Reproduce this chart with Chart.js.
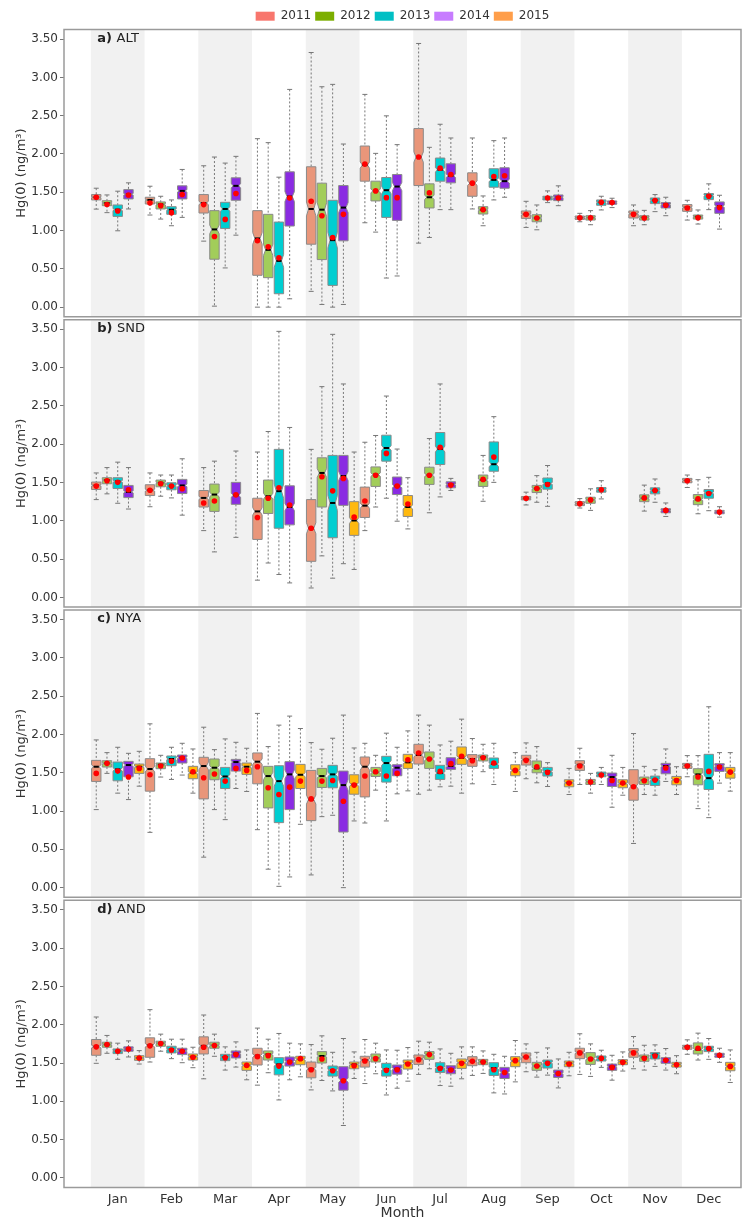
<!DOCTYPE html>
<html>
<head>
<meta charset="utf-8">
<script src="https://cdn.jsdelivr.net/npm/chart.js@4.4.1/dist/chart.umd.min.js"></script>
<style>
  html, body { margin: 0; padding: 0; background: #fff; }
  #wrap { width: 750px; height: 1222px; }
</style>
</head>
<body>
<div id="wrap"><canvas id="hgChart" width="750" height="1222"></canvas></div>
<script>
// monthly box stats per station and year: [low whisker, Q1, median, Q3, high whisker, mean]
const months = ['Jan', 'Feb', 'Mar', 'Apr', 'May', 'Jun', 'Jul', 'Aug', 'Sep', 'Oct', 'Nov', 'Dec'];
const years = ['2011', '2012', '2013', '2014', '2015'];
const stationTags = ['a)', 'b)', 'c)', 'd)'];
const stationNames = ['ALT', 'SND', 'NYA', 'AND'];
const yTicks = [0, 0.5, 1, 1.5, 2, 2.5, 3, 3.5];

const ALT_2011 = [[1.28,1.40,1.435,1.47,1.553,1.435],[1.203,1.347,1.40,1.435,1.579,1.36],[0.862,1.229,1.36,1.47,1.846,1.339],[0,0.416,0.897,1.26,2.20,0.866],[0.206,0.822,1.282,1.833,3.325,1.382],[1.102,1.645,1.855,2.104,2.778,1.868],[0.836,1.588,1.96,2.332,3.443,1.96],[1.282,1.448,1.619,1.754,2.209,1.619],[1.041,1.159,1.212,1.256,1.382,1.212],[1.115,1.146,1.168,1.19,1.225,1.168],[1.063,1.164,1.22,1.256,1.334,1.212],[1.137,1.251,1.304,1.339,1.395,1.295]];
const ALT_2012 = [[1.234,1.325,1.36,1.39,1.465,1.34],[1.15,1.282,1.343,1.374,1.448,1.325],[0.013,0.626,1.015,1.26,1.96,0.923],[0,0.385,0.748,1.212,2.148,0.787],[0.035,0.621,1.273,1.619,2.878,1.194],[0.98,1.387,1.518,1.645,2.008,1.518],[0.91,1.295,1.435,1.61,2.087,1.492],[1.063,1.216,1.269,1.312,1.452,1.273],[1.01,1.115,1.164,1.207,1.334,1.164],[1.076,1.137,1.168,1.194,1.26,1.168],[1.076,1.137,1.172,1.194,1.264,1.164],[1.085,1.15,1.181,1.203,1.269,1.168]];
const ALT_2013 = [[0.997,1.185,1.273,1.334,1.514,1.255],[1.063,1.212,1.273,1.312,1.40,1.234],[0.512,1.028,1.282,1.369,1.881,1.146],[0,0.175,0.604,1.111,1.697,0.643],[0,0.284,0.875,1.395,2.909,0.91],[0.38,1.172,1.527,1.693,2.498,1.43],[1.273,1.645,1.794,1.947,2.388,1.815],[1.40,1.566,1.662,1.807,2.174,1.706],[1.365,1.40,1.426,1.448,1.518,1.426],[1.269,1.33,1.369,1.40,1.448,1.369],[1.247,1.352,1.395,1.426,1.47,1.391],[1.273,1.404,1.457,1.483,1.61,1.448]];
const ALT_2014 = [[1.282,1.413,1.474,1.535,1.623,1.465],[1.172,1.413,1.518,1.584,1.798,1.47],[0.94,1.395,1.584,1.689,1.969,1.483],[0.109,1.059,1.444,1.767,2.843,1.426],[0.035,0.866,1.30,1.588,2.13,1.212],[0.407,1.133,1.575,1.732,2.122,1.43],[1.273,1.623,1.715,1.872,2.209,1.732],[1.435,1.553,1.645,1.82,2.209,1.715],[1.325,1.391,1.435,1.465,1.584,1.426],[1.30,1.343,1.365,1.387,1.422,1.365],[1.194,1.295,1.339,1.365,1.435,1.33],[1.019,1.225,1.317,1.374,1.461,1.30]];
const ALT_2015 = [null,null,null,null,null,null,null,null,null,null,null,null];

const SND_2011 = [[1.277,1.409,1.462,1.506,1.625,1.453],[1.184,1.33,1.40,1.471,1.625,1.40],[0.872,1.18,1.299,1.396,1.695,1.233],[0.225,0.757,1.123,1.295,1.898,1.044],[0.123,0.471,0.903,1.277,1.933,0.903],[0.872,1.044,1.198,1.44,2.026,1.259],null,null,[1.207,1.273,1.295,1.317,1.374,1.295],[1.167,1.198,1.224,1.25,1.29,1.224],null,[1.435,1.497,1.528,1.554,1.598,1.524]];
const SND_2012 = [[1.352,1.484,1.532,1.563,1.695,1.524],[1.321,1.444,1.497,1.532,1.598,1.484],[0.594,1.123,1.343,1.48,1.779,1.259],[0.449,1.096,1.321,1.532,2.166,1.295],[0.542,1.18,1.625,1.823,2.752,1.576],[1.18,1.449,1.603,1.704,2.114,1.594],[1.105,1.475,1.598,1.70,2.074,1.594],[1.255,1.449,1.532,1.598,1.854,1.541],[1.242,1.369,1.422,1.462,1.59,1.422],[1.136,1.229,1.273,1.308,1.418,1.273],[1.127,1.25,1.295,1.339,1.466,1.299],[1.092,1.211,1.277,1.343,1.537,1.286]];
const SND_2013 = [[1.229,1.422,1.515,1.563,1.766,1.502],[1.299,1.405,1.457,1.497,1.598,1.453],null,[0.299,0.903,1.387,1.933,3.474,1.431],[0.251,0.779,1.233,1.854,3.435,1.391],[1.295,1.779,1.951,2.118,2.629,1.88],[1.312,1.735,1.937,2.153,2.787,1.96],[1.502,1.647,1.739,2.03,2.36,1.832],[1.189,1.413,1.488,1.559,1.722,1.475],[1.286,1.374,1.405,1.435,1.524,1.405],[1.242,1.352,1.396,1.431,1.546,1.396],[1.132,1.295,1.365,1.409,1.568,1.356]];
const SND_2014 = [[1.154,1.303,1.378,1.462,1.695,1.405],[1.074,1.356,1.462,1.541,1.81,1.418],[0.784,1.215,1.334,1.502,1.911,1.339],[0.189,0.947,1.18,1.457,2.219,1.206],[0.44,1.202,1.585,1.854,2.787,1.554],[0.995,1.343,1.453,1.572,1.937,1.453],[1.396,1.431,1.475,1.51,1.554,1.466],null,null,null,[1.057,1.105,1.136,1.158,1.233,1.136],[1.048,1.092,1.118,1.136,1.184,1.114]];
const SND_2015 = [null,null,null,null,[0.365,0.81,1.004,1.25,1.898,1.048],[0.894,1.057,1.18,1.33,1.563,1.22],null,null,null,null,null,null];

const NYA_2011 = [[1.019,1.387,1.579,1.662,1.929,1.492],[0.722,1.26,1.549,1.684,2.139,1.474],[0.398,1.159,1.588,1.702,2.095,1.435],[0.757,1.356,1.645,1.759,2.275,1.579],[0.166,0.875,1.15,1.531,1.894,1.159],[0.844,1.185,1.579,1.706,1.885,1.457],[1.22,1.614,1.732,1.872,2.253,1.759],[1.356,1.584,1.68,1.737,1.947,1.658],[1.422,1.601,1.671,1.728,1.89,1.662],[1.347,1.531,1.605,1.658,1.82,1.588],[0.577,1.142,1.325,1.54,2.012,1.317],[1.448,1.557,1.597,1.623,1.724,1.588]];
const NYA_2012 = [[1.492,1.575,1.623,1.658,1.763,1.623],[1.444,1.553,1.605,1.627,1.728,1.588],[1.019,1.409,1.566,1.68,1.802,1.483],[0.241,1.041,1.457,1.584,1.842,1.304],[0.927,1.308,1.457,1.557,1.807,1.391],[1.273,1.452,1.505,1.57,1.728,1.514],[1.273,1.557,1.68,1.772,2.122,1.68],[1.514,1.654,1.706,1.732,1.872,1.697],[1.369,1.50,1.557,1.654,1.842,1.579],[1.234,1.347,1.382,1.413,1.492,1.378],[1.216,1.347,1.404,1.444,1.584,1.395],[1.032,1.343,1.479,1.553,1.724,1.444]];
const NYA_2013 = [[1.234,1.395,1.544,1.64,1.833,1.522],[1.413,1.592,1.68,1.719,1.833,1.649],[0.888,1.295,1.452,1.57,1.942,1.391],[0.017,0.849,1.391,1.592,2.122,1.216],[0.945,1.304,1.479,1.597,1.951,1.40],[0.871,1.378,1.627,1.715,2.017,1.457],[1.317,1.413,1.496,1.597,1.863,1.518],[1.347,1.557,1.614,1.693,1.885,1.627],[1.321,1.457,1.518,1.57,1.632,1.505],[1.347,1.448,1.479,1.509,1.57,1.47],[1.207,1.334,1.409,1.457,1.54,1.404],[0.914,1.282,1.43,1.741,2.362,1.518]];
const NYA_2014 = [[1.15,1.448,1.601,1.649,1.754,1.444],[1.47,1.627,1.697,1.732,1.885,1.693],[1.295,1.522,1.64,1.675,1.898,1.557],[0.14,1.019,1.479,1.645,2.24,1.312],[0,0.726,1.339,1.522,2.253,1.129],[1.225,1.461,1.566,1.605,1.833,1.492],[1.325,1.544,1.588,1.697,1.912,1.619],null,null,[1.05,1.321,1.444,1.496,1.728,1.40],[1.387,1.487,1.588,1.623,1.811,1.562],[1.365,1.518,1.588,1.619,1.763,1.575]];
const NYA_2015 = [[1.325,1.492,1.579,1.614,1.78,1.557],[1.234,1.422,1.50,1.584,1.811,1.514],[1.256,1.479,1.579,1.627,1.82,1.531],[0.827,1.295,1.474,1.61,2.078,1.391],[0.871,1.22,1.347,1.474,1.824,1.339],[1.264,1.557,1.636,1.741,2.047,1.671],[1.234,1.61,1.697,1.837,2.20,1.715],[1.256,1.461,1.531,1.605,1.763,1.531],[1.216,1.317,1.369,1.409,1.557,1.365],[1.207,1.304,1.36,1.409,1.57,1.365],[1.216,1.343,1.409,1.452,1.579,1.40],[1.26,1.43,1.505,1.57,1.763,1.509]];

const AND_2011 = [[1.496,1.601,1.715,1.807,2.101,1.711],[1.513,1.575,1.732,1.829,2.197,1.724],[1.294,1.618,1.724,1.842,2.127,1.706],[1.211,1.474,1.596,1.693,1.956,1.583],[1.149,1.307,1.425,1.513,1.741,1.412],[1.232,1.447,1.539,1.588,1.807,1.526],[1.351,1.482,1.553,1.605,1.785,1.544],[1.338,1.465,1.526,1.583,1.711,1.522],[1.386,1.504,1.579,1.632,1.75,1.579],[1.351,1.557,1.636,1.693,1.882,1.632],[1.425,1.575,1.645,1.689,1.846,1.632],[1.614,1.68,1.715,1.732,1.803,1.706]];
const AND_2012 = [[1.627,1.706,1.741,1.772,1.86,1.741],[1.654,1.719,1.759,1.785,1.877,1.754],[1.588,1.693,1.732,1.772,1.877,1.728],[1.373,1.539,1.614,1.658,1.811,1.596],[1.272,1.50,1.592,1.649,1.855,1.553],[1.36,1.513,1.566,1.618,1.759,1.557],[1.425,1.548,1.61,1.649,1.772,1.61],[1.364,1.478,1.518,1.548,1.658,1.513],[1.316,1.404,1.461,1.509,1.64,1.461],[1.325,1.482,1.557,1.636,1.75,1.553],[1.408,1.522,1.575,1.605,1.732,1.561],[1.539,1.618,1.675,1.763,1.89,1.693]];
const AND_2013 = [[1.548,1.623,1.658,1.684,1.759,1.654],[1.557,1.632,1.68,1.719,1.811,1.671],[1.408,1.531,1.579,1.614,1.711,1.57],[1.018,1.346,1.482,1.57,1.886,1.46],[1.136,1.329,1.408,1.461,1.64,1.399],[1.083,1.329,1.421,1.496,1.671,1.404],[1.206,1.377,1.439,1.504,1.684,1.43],[1.11,1.338,1.434,1.504,1.614,1.412],[1.342,1.434,1.504,1.539,1.697,1.496],[1.443,1.526,1.561,1.592,1.667,1.561],[1.456,1.553,1.61,1.636,1.737,1.592],[1.548,1.649,1.689,1.719,1.82,1.689]];
const AND_2014 = [[1.579,1.654,1.684,1.711,1.789,1.684],[1.504,1.61,1.658,1.693,1.811,1.654],[1.447,1.566,1.623,1.658,1.776,1.61],[1.281,1.46,1.518,1.579,1.759,1.513],[0.684,1.145,1.276,1.452,1.82,1.268],[1.171,1.355,1.425,1.474,1.667,1.412],[1.197,1.36,1.417,1.465,1.627,1.408],[1.096,1.298,1.377,1.443,1.588,1.377],[1.175,1.311,1.364,1.408,1.553,1.364],[1.276,1.404,1.452,1.487,1.601,1.443],[1.408,1.496,1.539,1.57,1.689,1.535],[1.509,1.575,1.601,1.627,1.693,1.601]];
const AND_2015 = [[1.487,1.535,1.566,1.596,1.662,1.566],[1.439,1.539,1.583,1.618,1.706,1.575],[1.281,1.404,1.469,1.513,1.671,1.469],[1.32,1.478,1.548,1.588,1.75,1.557],[1.298,1.425,1.482,1.513,1.645,1.465],[1.263,1.421,1.496,1.539,1.702,1.487],[1.294,1.43,1.504,1.553,1.711,1.496],[1.254,1.452,1.526,1.583,1.794,1.531],[1.333,1.452,1.496,1.526,1.64,1.487],[1.395,1.478,1.518,1.544,1.645,1.509],[1.36,1.447,1.482,1.509,1.596,1.478],[1.246,1.399,1.456,1.509,1.671,1.456]];

const stationData = [
  [ALT_2011, ALT_2012, ALT_2013, ALT_2014, ALT_2015],
  [SND_2011, SND_2012, SND_2013, SND_2014, SND_2015],
  [NYA_2011, NYA_2012, NYA_2013, NYA_2014, NYA_2015],
  [AND_2011, AND_2012, AND_2013, AND_2014, AND_2015]
];

const boxColors = ['#E9967A', '#A2CD5A', '#00CED1', '#8A2BE2', '#FFB90F'];
const legendColors = ['#F8766D', '#7CAE00', '#00BFC4', '#C77CFF', '#FF9E4A'];
const FONT = 'DejaVu Sans';
const BOX_W = 0.175;     // box width in month units
const SLOT = 0.2;        // spacing between years inside a month

Chart.defaults.font.family = FONT;
Chart.defaults.color = '#333';

// one scatter dataset per station and year, carrying the mean; boxes are drawn by the plugin below
const datasets = [];
stationData.forEach((series, p) => {
  series.forEach((stats, k) => {
    const pts = [];
    stats.forEach((s, i) => {
      if (s) pts.push({ x: i + 1 + (k - 2) * SLOT, y: s[5] });
    });
    datasets.push({
      type: 'scatter',
      label: stationNames[p] + ' ' + years[k],
      yAxisID: 'y' + p,
      data: pts,
      stats: stats,
      yearIndex: k,
      pointStyle: 'circle',
      pointRadius: 2.8,
      pointHoverRadius: 2.8,
      pointBackgroundColor: '#FF0000',
      pointBorderWidth: 0,
      showLine: false
    });
  });
});

const scales = {
  x: {
    type: 'linear',
    min: 0,
    max: 12.6,
    afterBuildTicks: s => { s.ticks = months.map((m, i) => ({ value: i + 1 })); },
    afterFit: s => { s.height = 33; },
    ticks: { callback: v => months[v - 1], font: { size: 13 }, color: '#333', padding: 3, maxRotation: 0 },
    grid: { display: false, drawTicks: false },
    border: { display: false },
    title: { display: true, text: 'Month', font: { size: 14 }, color: '#333', padding: 0 }
  }
};
stationNames.forEach((name, p) => {
  scales['y' + p] = {
    type: 'linear',
    position: 'left',
    stack: 'panels',
    stackWeight: 1,
    weight: 4 - p,
    offset: false,
    min: -0.145,
    max: 3.645,
    afterBuildTicks: s => { s.ticks = yTicks.map(v => ({ value: v })); },
    afterFit: s => { s.width = 64; },
    ticks: { callback: v => v.toFixed(2), font: { size: 12 }, color: '#333', padding: 2 },
    grid: { display: true, drawOnChartArea: false, drawTicks: true, tickLength: 4, color: '#777' },
    border: { display: false },
    title: { display: true, text: 'Hg(0) (ng/m³)', font: { size: 13 }, color: '#333', padding: { top: 14, bottom: 0 } }
  };
});

const boxPlugin = {
  id: 'notchedBoxes',
  beforeDatasetsDraw(chart) {
    const ctx = chart.ctx;
    const xs = chart.scales.x;
    ctx.save();
    // shaded months and panel labels
    stationNames.forEach((name, p) => {
      const ys = chart.scales['y' + p];
      const top = ys.top + 1.5, bottom = ys.bottom - 1.5;
      ctx.fillStyle = '#F1F1F1';
      months.forEach((m, i) => {
        if (i % 2 === 0) {
          const x0 = xs.getPixelForValue(i + 0.5), x1 = xs.getPixelForValue(i + 1.5);
          ctx.fillRect(x0, top, x1 - x0, bottom - top);
        }
      });
      ctx.fillStyle = '#222';
      ctx.textBaseline = 'middle';
      ctx.textAlign = 'left';
      ctx.font = 'bold 13px ' + FONT;
      const lx = xs.getPixelForValue(0.62);
      ctx.fillText(stationTags[p], lx, top + 9);
      const w = ctx.measureText(stationTags[p] + ' ').width;
      ctx.font = '13px ' + FONT;
      ctx.fillText(name, lx + w, top + 9);
    });

    const half = (xs.getPixelForValue(BOX_W) - xs.getPixelForValue(0)) / 2;
    const inset = half * 0.45;
    chart.data.datasets.forEach(ds => {
      const ys = chart.scales[ds.yAxisID];
      ds.stats.forEach((s, i) => {
        if (!s) return;
        const cx = xs.getPixelForValue(i + 1 + (ds.yearIndex - 2) * SLOT);
        const [lo, q1, med, q3, hi] = s;
        const nh = 0.09 * (q3 - q1);
        const yLo = ys.getPixelForValue(lo), yHi = ys.getPixelForValue(hi);
        const yQ1 = ys.getPixelForValue(q1), yQ3 = ys.getPixelForValue(q3);
        const yMed = ys.getPixelForValue(med);
        const yN1 = ys.getPixelForValue(Math.max(q1, med - nh)), yN3 = ys.getPixelForValue(Math.min(q3, med + nh));

        // whiskers
        ctx.strokeStyle = '#777';
        ctx.lineWidth = 1;
        ctx.setLineDash([2, 2]);
        ctx.beginPath();
        ctx.moveTo(cx, yHi); ctx.lineTo(cx, yQ3);
        ctx.moveTo(cx, yQ1); ctx.lineTo(cx, yLo);
        ctx.stroke();
        ctx.setLineDash([]);
        ctx.beginPath();
        ctx.moveTo(cx - 2.5, yHi); ctx.lineTo(cx + 2.5, yHi);
        ctx.moveTo(cx - 2.5, yLo); ctx.lineTo(cx + 2.5, yLo);
        ctx.stroke();

        // notched box
        ctx.beginPath();
        ctx.moveTo(cx - half, yQ3);
        ctx.lineTo(cx + half, yQ3);
        ctx.lineTo(cx + half, yN3);
        ctx.lineTo(cx + half - inset, yMed);
        ctx.lineTo(cx + half, yN1);
        ctx.lineTo(cx + half, yQ1);
        ctx.lineTo(cx - half, yQ1);
        ctx.lineTo(cx - half, yN1);
        ctx.lineTo(cx - half + inset, yMed);
        ctx.lineTo(cx - half, yN3);
        ctx.closePath();
        ctx.fillStyle = boxColors[ds.yearIndex];
        ctx.fill();
        ctx.strokeStyle = '#8A8A8A';
        ctx.lineWidth = 1;
        ctx.stroke();

        // median
        ctx.strokeStyle = '#000';
        ctx.lineWidth = 2;
        ctx.beginPath();
        ctx.moveTo(cx - half + inset, yMed);
        ctx.lineTo(cx + half - inset, yMed);
        ctx.stroke();
      });
    });
    ctx.restore();
  },
  afterDatasetsDraw(chart) {
    const ctx = chart.ctx;
    const area = chart.chartArea;
    ctx.save();
    ctx.strokeStyle = '#9A9A9A';
    ctx.lineWidth = 1.5;
    stationNames.forEach((name, p) => {
      const ys = chart.scales['y' + p];
      ctx.strokeRect(area.left, ys.top + 1.5, area.right - area.left, ys.bottom - ys.top - 3);
    });
    ctx.restore();
  }
};

new Chart(document.getElementById('hgChart').getContext('2d'), {
  type: 'scatter',
  data: { datasets: datasets },
  options: {
    responsive: false,
    animation: false,
    layout: { padding: { left: 0, right: 9, top: 0, bottom: 0 } },
    plugins: {
      legend: {
        position: 'top',
        fullSize: false,
        maxHeight: 28,
        title: { display: true, text: '', font: { size: 1 }, padding: { top: 5, bottom: 0 } },
        labels: {
          boxWidth: 19,
          boxHeight: 9,
          padding: 4,
          font: { size: 12 },
          color: '#333',
          generateLabels: () => years.map((y, i) => ({
            text: y,
            fillStyle: legendColors[i],
            strokeStyle: legendColors[i],
            lineWidth: 0,
            hidden: false,
            datasetIndex: i
          }))
        }
      },
      tooltip: { enabled: false }
    },
    scales: scales
  },
  plugins: [boxPlugin]
});
</script>
</body>
</html>
